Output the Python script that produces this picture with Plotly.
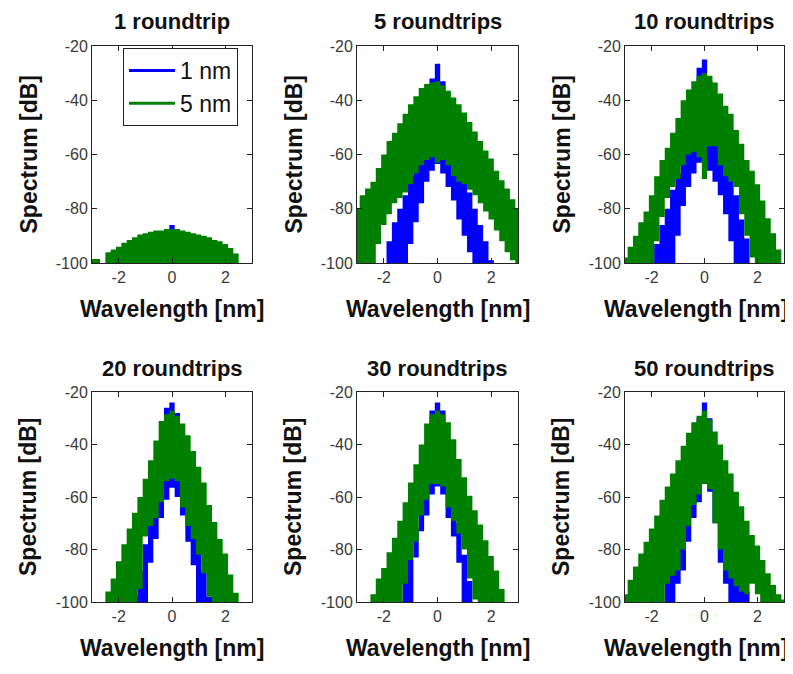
import plotly.graph_objects as go

# ---------------- data ----------------
wavelength_nm = [-3.0, -2.8, -2.6, -2.4, -2.2, -2.0, -1.8, -1.6, -1.4, -1.2, -1.0,
                 -0.8, -0.6, -0.4, -0.2, 0.0, 0.2, 0.4, 0.6, 0.8, 1.0,
                 1.2, 1.4, 1.6, 1.8, 2.0, 2.2, 2.4, 2.6, 2.8, 3.0]

panel_titles = ["1 roundtrip", "5 roundtrips", "10 roundtrips",
                "20 roundtrips", "30 roundtrips", "50 roundtrips"]
series_names = ["1 nm", "5 nm"]

x_tick_vals = [-2, 0, 2]
x_tick_text = ["-2", "0", "2"]
y_tick_vals = [-100, -80, -60, -40, -20]
y_tick_text = ["-100", "-80", "-60", "-40", "-20"]

# 1 roundtrip
p1_blue_hi = [-100, -100, -100, -100, -100, -100, -100, -100, -100, -100, -100,
              -100, -100, -100, -88, -86, -89, -100, -100, -100, -100,
              -100, -100, -100, -100, -100, -100, -100, -100, -100, -100]
p1_blue_lo = [-100, -100, -100, -100, -100, -100, -100, -100, -100, -100, -100,
              -100, -100, -100, -100, -100, -100, -100, -100, -100, -100,
              -100, -100, -100, -100, -100, -100, -100, -100, -100, -100]
p1_green_hi = [-98.5, -98.5, -100, -96, -95, -94, -92.5, -91.5, -90.5, -89.5, -89,
               -88.5, -88, -88, -87.5, -87.5, -87.5, -88, -88.5, -89, -89.5,
               -90, -90.5, -91.5, -92, -93, -94.5, -96.5, -100, -100, -100]
p1_green_lo = [-100, -100, -100, -100, -100, -100, -100, -100, -100, -100, -100,
               -100, -100, -100, -100, -100, -100, -100, -100, -100, -100,
               -100, -100, -100, -100, -100, -100, -100, -100, -100, -100]

# 5 roundtrips
p2_blue_hi = [-100, -100, -100, -100, -100, -100, -92, -85, -80, -75, -68,
              -60, -50, -42, -32, -26.5, -33, -42, -50, -60, -68,
              -74, -80, -86, -92, -99, -100, -100, -100, -100, -100]
p2_blue_lo = [-100, -100, -100, -100, -100, -100, -100, -100, -100, -100, -93,
              -85, -78, -70, -66, -63.5, -67, -72, -77, -84, -90,
              -96, -100, -100, -100, -100, -100, -100, -100, -100, -100]
p2_green_hi = [-80, -75, -72.5, -70, -65, -60, -55, -52, -48.5, -45, -41.5,
               -38.5, -35.5, -34, -33.5, -33, -34.5, -36.5, -39, -41.5, -44.5,
               -48, -51.5, -55, -58.5, -61.5, -66, -69.5, -72.5, -76.5, -80]
p2_green_lo = [-100, -100, -100, -100, -93, -86, -82, -78, -76, -74, -71,
               -67, -64, -62, -61, -63, -62, -64, -68, -70, -71,
               -73, -75, -78, -81, -84, -88, -92, -96, -99, -100]

# 10 roundtrips
p3_blue_hi = [-100, -100, -100, -100, -100, -99, -93, -86, -80, -73, -67,
              -60, -50, -40, -28, -25, -33, -42, -50, -60, -68,
              -75, -84, -91, -100, -100, -100, -100, -100, -100, -100]
p3_blue_lo = [-100, -100, -100, -100, -100, -100, -100, -100, -100, -100, -90,
              -79, -72, -67, -63, -62, -66, -70, -75, -82, -92,
              -100, -100, -100, -100, -100, -100, -100, -100, -100, -100]
p3_green_hi = [-98, -94, -90, -85, -81, -75, -68, -62, -57.5, -52, -46.5,
               -40, -36, -33, -31, -30, -31, -33.5, -37.5, -42, -45,
               -51, -56, -62, -66, -71, -77, -83.5, -89, -95, -100]
p3_green_lo = [-100, -100, -100, -100, -100, -100, -92, -83, -76, -72, -69,
               -64, -60, -59, -61, -69, -57, -57, -64, -68, -70,
               -72, -82, -90, -98, -100, -100, -100, -100, -100, -100]

# 20 roundtrips
p4_blue_hi = [-100, -100, -100, -100, -100, -100, -100, -100, -98, -88, -78,
              -68, -55, -40, -26, -24, -28, -40, -52, -64, -76,
              -88, -98, -100, -100, -100, -100, -100, -100, -100, -100]
p4_blue_lo = [-100, -100, -100, -100, -100, -100, -100, -100, -100, -100, -100,
              -85, -76, -68, -61, -56.5, -60, -67, -77, -86, -100,
              -100, -100, -100, -100, -100, -100, -100, -100, -100, -100]
p4_green_hi = [-100, -100, -100, -96, -91, -84.5, -78, -72, -66, -60, -53,
               -46, -38.5, -31, -28.5, -27, -29, -32, -36.5, -42.5, -48.5,
               -54.5, -63, -69.5, -76, -81.5, -89.5, -96.5, -100, -100, -100]
p4_green_lo = [-100, -100, -100, -100, -100, -100, -100, -100, -100, -95, -75,
               -71, -68, -62, -54, -53, -54, -64, -71, -76, -82,
               -89, -98, -100, -100, -100, -100, -100, -100, -100, -100]

# 30 roundtrips
p5_blue_hi = [-100, -100, -100, -100, -100, -100, -100, -100, -100, -92, -84,
              -72, -58, -44, -27, -24, -27, -42, -56, -70, -82,
              -92, -100, -100, -100, -100, -100, -100, -100, -100, -100]
p5_blue_lo = [-100, -100, -100, -100, -100, -100, -100, -100, -100, -100, -100,
              -83, -73, -67, -59, -56, -59, -68, -75, -85, -100,
              -100, -100, -100, -100, -100, -100, -100, -100, -100, -100]
p5_green_hi = [-100, -100, -100, -97, -91, -87, -81, -75.5, -69, -62, -54.5,
               -47.5, -40, -32, -28.5, -27, -28.5, -31.5, -38, -45.5, -52.5,
               -59.5, -65, -70.5, -76.5, -82.5, -88, -95, -100, -100, -100]
p5_green_lo = [-100, -100, -100, -100, -100, -100, -100, -100, -100, -93, -84,
               -77, -67, -61, -55, -55, -56, -64, -69, -74, -80,
               -91, -99, -100, -100, -100, -100, -100, -100, -100, -100]

# 50 roundtrips
p6_blue_hi = [-100, -100, -100, -100, -100, -100, -100, -100, -92, -88, -80,
              -70, -58, -45, -30, -24, -30, -45, -58, -70, -82,
              -90, -94, -96, -100, -100, -100, -100, -100, -100, -100]
p6_blue_lo = [-100, -100, -100, -100, -100, -100, -100, -100, -100, -100, -93,
              -88, -77, -68, -62, -55, -58, -70, -85, -93, -100,
              -100, -100, -100, -100, -100, -100, -100, -100, -100, -100]
p6_green_hi = [-97, -91.5, -86.5, -81.5, -77, -72, -67, -61, -56, -51, -46,
               -40.5, -35.5, -31.5, -29, -27, -30.5, -35, -40, -46, -51,
               -58, -63.5, -69, -74.5, -78.5, -84, -89, -93.5, -97, -99]
p6_green_lo = [-100, -100, -100, -100, -100, -100, -100, -100, -93, -90, -88,
               -80, -71, -63, -59, -55, -57, -70, -80, -88, -91,
               -94, -96, -97, -93, -97, -100, -100, -100, -100, -100]

panels = [
    (p1_blue_hi, p1_blue_lo, p1_green_hi, p1_green_lo),
    (p2_blue_hi, p2_blue_lo, p2_green_hi, p2_green_lo),
    (p3_blue_hi, p3_blue_lo, p3_green_hi, p3_green_lo),
    (p4_blue_hi, p4_blue_lo, p4_green_hi, p4_green_lo),
    (p5_blue_hi, p5_blue_lo, p5_green_hi, p5_green_lo),
    (p6_blue_hi, p6_blue_lo, p6_green_hi, p6_green_lo),
]

# ---------------- styling / layout ----------------
PAGE_W, PAGE_H = 793, 674
OFF = 8                      # default page margin of the html body
W, H = PAGE_W - OFF, PAGE_H - OFF
BLUE = "#0000FF"
GREEN = "#008000"
FONT = "Liberation Sans, Arial, Helvetica, sans-serif"

# target positions in window pixels
col_px = [(92, 252), (357, 518), (625, 784)]
row_px = [(46, 263), (392, 602)]


def px_x(v):
    return (v - OFF) / W


def px_y(v):
    return 1 - (v - OFF) / H


fig = go.Figure()


def band(x, hi, lo, color, k):
    xs = list(x) + list(x)[::-1]
    ys = list(hi) + list(lo)[::-1]
    return go.Scatter(x=xs, y=ys, mode="lines", fill="toself", fillcolor=color,
                      line=dict(width=0, shape="hvh", color=color),
                      hoverinfo="skip", showlegend=False,
                      xaxis="x" + ("" if k == 1 else str(k)),
                      yaxis="y" + ("" if k == 1 else str(k)))


annotations = []
for i, (bhi, blo, ghi, glo) in enumerate(panels):
    k = i + 1
    fig.add_trace(band(wavelength_nm, bhi, blo, BLUE, k))
    fig.add_trace(band(wavelength_nm, ghi, glo, GREEN, k))

    r, c = divmod(i, 3)
    x0, x1 = col_px[c]
    y0, y1 = row_px[r]
    sfx = "" if k == 1 else str(k)
    common = dict(showline=True, mirror="ticks", linecolor="#222", linewidth=1,
                  ticks="inside", ticklen=5, tickcolor="#222", showgrid=False,
                  zeroline=False, tickfont=dict(family=FONT, size=16, color="#3a3a3a"),
                  fixedrange=True, automargin=False)
    fig.layout["xaxis" + sfx] = dict(common, domain=[px_x(x0), px_x(x1)], range=[-3, 3],
                                     tickvals=x_tick_vals, ticktext=x_tick_text,
                                     anchor="y" + sfx)
    fig.layout["yaxis" + sfx] = dict(common, domain=[px_y(y1), px_y(y0)], range=[-100, -20],
                                     tickvals=y_tick_vals, ticktext=y_tick_text,
                                     anchor="x" + sfx)
    cx = (x0 + x1) / 2
    annotations.append(dict(text="<b>%s</b>" % panel_titles[i], x=px_x(cx), y=px_y(y0 - 24),
                            xref="paper", yref="paper", showarrow=False,
                            font=dict(family=FONT, size=22, color="#111"),
                            xanchor="center", yanchor="middle"))
    annotations.append(dict(text="<b>Wavelength [nm]</b>", x=px_x(min(cx, PAGE_W - 97)),
                            y=px_y(y1 + 46),
                            xref="paper", yref="paper", showarrow=False,
                            font=dict(family=FONT, size=23, color="#111"),
                            xanchor="center", yanchor="middle"))
    annotations.append(dict(text="<b>Spectrum [dB]</b>", x=px_x(x0 - 64), y=px_y((y0 + y1) / 2),
                            xref="paper", yref="paper", showarrow=False, textangle=-90,
                            font=dict(family=FONT, size=23, color="#111"),
                            xanchor="center", yanchor="middle"))

# legend entries (line samples) for the first panel
for name, color in zip(series_names, [BLUE, GREEN]):
    fig.add_trace(go.Scatter(x=[None], y=[None], mode="lines", name=name,
                             line=dict(color=color, width=3)))

fig.update_layout(
    width=W, height=H,
    margin=dict(l=0, r=0, t=0, b=0, pad=0, autoexpand=False),
    paper_bgcolor="white", plot_bgcolor="white",
    annotations=annotations,
    showlegend=True,
    legend=dict(x=px_x(123), y=px_y(48), xanchor="left", yanchor="top",
                bgcolor="white", bordercolor="#222", borderwidth=1,
                font=dict(family=FONT, size=23, color="#111"),
                itemwidth=46, tracegroupgap=6),
    font=dict(family=FONT),
)

fig.write_html("out.html")
